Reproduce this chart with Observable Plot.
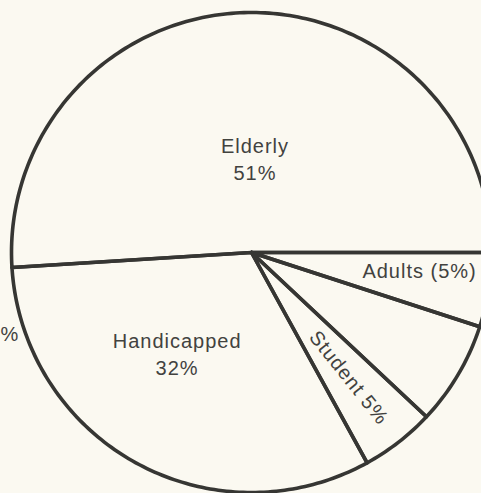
<!DOCTYPE html>
<html>
<head>
<meta charset="utf-8">
<script src="https://cdn.jsdelivr.net/npm/d3@7"></script>
<script src="https://cdn.jsdelivr.net/npm/@observablehq/plot@0.6"></script>
<style>
  html, body { margin: 0; padding: 0; background: #fbf9f1; }
  #chart svg { display: block; background: #fbf9f1; }
  #chart svg text { letter-spacing: 1px; }
</style>
</head>
<body>
<div id="chart"></div>
<script>
// ---- data ----
const categories = ["Elderly", "Handicapped", "Student", "Other", "Adults"];
const shares = [51, 32, 5, 7, 5];
const labelTexts = ["Elderly\n51%", "Handicapped\n32%", "Student 5%", "", "Adults (5%)"];
const strayText = "%";

// ---- layout (pixels of the 481x493 frame) ----
const W = 481, H = 493;
const CX = 251, CY = 252, R = 240;
// label placement relative to slice middle: radius fraction, angle nudge (deg), rotate along radius?
const labelLayout = {
  Elderly:     { r: 0.394, nudge: -3.9, radial: false },
  Handicapped: { r: 0.521, nudge: -7.7, radial: false },
  Student:     { r: 0.661, nudge: 0.8,  radial: true  },
  Adults:      { r: 0.704, nudge: 3.2,  radial: false }
};

// ---- geometry ----
const total = d3.sum(shares);
let acc = 0;
const slices = categories.map((name, i) => {
  const a0 = acc / total * 360;
  acc += shares[i];
  const a1 = acc / total * 360;
  return { name, share: shares[i], a0, a1, label: labelTexts[i] };
});
const rad = d => d * Math.PI / 180;

const outline = [];
for (const s of slices) {
  outline.push({ name: s.name, x: 0, y: 0 });
  const n = Math.max(2, Math.ceil(s.a1 - s.a0));
  for (let k = 0; k <= n; k++) {
    const a = rad(s.a0 + (s.a1 - s.a0) * k / n);
    outline.push({ name: s.name, x: Math.cos(a), y: Math.sin(a) });
  }
  outline.push({ name: s.name, x: 0, y: 0 });
}

const labels = slices.filter(s => s.label && labelLayout[s.name]).map(s => {
  const L = labelLayout[s.name];
  const mid = (s.a0 + s.a1) / 2 + L.nudge;
  return {
    text: s.label,
    x: L.r * Math.cos(rad(mid)),
    y: L.r * Math.sin(rad(mid)),
    rotate: L.radial ? (360 - mid) % 360 : 0
  };
});

const ink = "#363633";
const textInk = "#42423f";

const chart = Plot.plot({
  width: W,
  height: H,
  margin: 0,
  x: { domain: [(0 - CX) / R, (W - CX) / R], axis: null },
  y: { domain: [(CY - H) / R, CY / R], axis: null },
  style: { background: "#fbf9f1", fontFamily: "'Liberation Sans', Arial, Helvetica, sans-serif" },
  marks: [
    Plot.line(outline, {
      x: "x", y: "y", z: "name",
      stroke: ink, strokeWidth: 3.6, strokeLinejoin: "round", strokeLinecap: "round"
    }),
    Plot.text(labels, {
      x: "x", y: "y", text: "text", rotate: "rotate",
      fontSize: 20, lineHeight: 1.35, fill: textInk, textAnchor: "middle"
    }),
    Plot.text([strayText], {
      x: [(0 - CX) / R], y: [-0.342], text: d => d,
      fontSize: 20, fill: textInk, textAnchor: "start"
    })
  ]
});
document.getElementById("chart").appendChild(chart);
</script>
</body>
</html>
